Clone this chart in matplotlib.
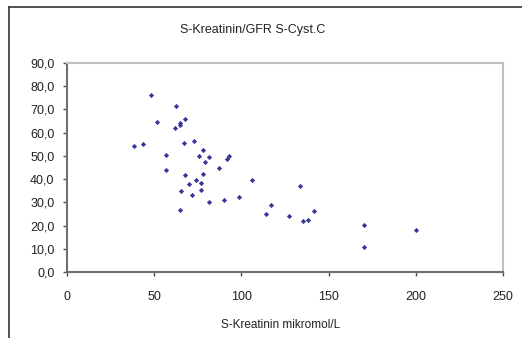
import matplotlib
matplotlib.use("Agg")
import matplotlib.pyplot as plt
from matplotlib.lines import Line2D
from matplotlib.ticker import FuncFormatter

plt.rcParams['font.family'] = ['Liberation Sans', 'DejaVu Sans']

title = "S-Kreatinin/GFR S-Cyst.C"
xlabel = "S-Kreatinin mikromol/L"

s_kreatinin = [48.2, 62.7, 51.8, 67.8, 64.8, 64.8, 61.9, 38.3, 43.8, 67.1,
               73.0, 78.2, 56.9, 75.8, 81.6, 92.7, 91.9, 78.9, 56.9, 87.0,
               67.8, 78.2, 73.7, 76.7, 69.9, 76.6, 65.3, 105.9, 71.5, 98.8,
               90.0, 81.6, 64.9, 116.7, 114.1, 133.6, 127.1, 141.8, 135.1, 138.4,
               170.5, 170.5, 200.3]
gfr_cyst = [76.2, 71.4, 64.7, 65.9, 64.3, 63.5, 62.0, 54.4, 55.0, 55.4,
            56.5, 52.7, 50.5, 50.0, 49.4, 50.1, 48.5, 47.2, 43.9, 44.7,
            41.7, 42.2, 39.8, 38.3, 37.7, 35.5, 35.0, 39.6, 33.3, 32.3,
            31.1, 30.0, 26.7, 29.0, 25.1, 37.2, 24.1, 26.3, 21.8, 22.4,
            20.1, 10.9, 18.0]

xticks = [0, 50, 100, 150, 200, 250]
yticks = [0, 10, 20, 30, 40, 50, 60, 70, 80, 90]

fig = plt.figure(figsize=(5.22, 3.38), dpi=100)
ax = fig.add_axes([67/522, 1-272/338, (503-67)/522, (272-63)/338])

ax.scatter(s_kreatinin, gfr_cyst, marker='D', s=5, color='#333399',
           edgecolors='#333399', linewidths=0.4, zorder=3, clip_on=False)

ax.set_xlim(0, 250)
ax.set_ylim(0, 90)
ax.set_xticks(xticks)
ax.set_yticks(yticks)
ax.yaxis.set_major_formatter(FuncFormatter(lambda v, p: f"{v:.1f}".replace('.', ',')))

for side in ['left', 'bottom']:
    ax.spines[side].set_color('#707070')
    ax.spines[side].set_linewidth(1.5)
for side in ['top', 'right']:
    ax.spines[side].set_color('#c0c0c0')
    ax.spines[side].set_linewidth(1.5)

ax.tick_params(axis='y', direction='out', length=3, width=1, color='#505050',
               labelsize=9, pad=6, labelcolor='#222222')
ax.tick_params(axis='x', direction='out', length=3, width=1, color='#505050',
               labelsize=9, pad=11, labelcolor='#222222')

fig.text(253/522, 1-30/338, title, ha='center', va='center', fontsize=9, color='#222222')
fig.text(281/522, 1-325/338, xlabel, ha='center', va='center', fontsize=8.5, color='#222222')

# outer chart frame (partially visible)
fig.add_artist(Line2D([9/522, 9/522], [0, 1-7/338], transform=fig.transFigure,
                      color='#333333', linewidth=1.2))
fig.add_artist(Line2D([9/522, 1], [1-7/338, 1-7/338], transform=fig.transFigure,
                      color='#333333', linewidth=1.2))

fig.savefig("out.png", dpi=100)
